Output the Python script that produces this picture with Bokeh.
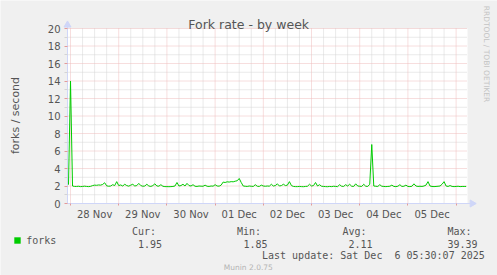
import math
from bokeh.plotting import figure
from bokeh.models import Range1d, FixedTicker, Label, Legend, LegendItem, BoxAnnotation
from bokeh.embed import file_html
from bokeh.resources import INLINE

# ---- data (hours since 28 Nov 00:00, hourly averages of forks/second) ----
hours = list(range(-1, 198))
forks_pre = [2.15]
forks_nov28 = [14.0, 2.0, 1.95, 1.95, 1.97, 1.93, 1.95, 1.98, 1.95, 1.93, 1.96, 2.05,
               2.1, 2.08, 2.12, 2.1, 2.18, 2.37, 2.02, 1.97, 2.0, 2.15, 2.05, 2.5]
forks_nov29 = [2.05, 2.12, 2.0, 2.2, 2.05, 1.98, 2.1, 2.2, 2.0, 2.05, 2.3, 2.05,
               1.97, 2.0, 2.2, 2.0, 1.95, 2.05, 2.25, 2.0, 1.98, 2.15, 1.97, 1.93]
forks_nov30 = [1.93, 1.92, 1.93, 1.95, 2.0, 2.4, 2.0, 2.05, 2.2, 2.0, 2.3, 2.05,
               2.0, 2.15, 1.97, 1.95, 2.0, 1.98, 1.97, 2.1, 1.97, 1.95, 2.0, 1.98]
forks_dec01 = [2.15, 2.0, 1.98, 2.1, 2.45, 2.4, 2.48, 2.45, 2.5, 2.48, 2.55, 2.6,
               2.86, 2.4, 2.0, 1.97, 1.95, 2.0, 1.97, 1.95, 2.15, 1.97, 1.95, 2.1]
forks_dec02 = [2.0, 1.97, 2.0, 1.98, 2.2, 2.0, 2.05, 2.25, 2.0, 2.05, 2.2, 2.05,
               2.1, 2.5, 2.05, 1.95, 1.93, 1.93, 1.95, 1.93, 1.92, 1.95, 1.97, 2.2]
forks_dec03 = [2.0, 2.05, 2.4, 2.0, 2.15, 1.97, 1.95, 1.93, 1.92, 1.95, 1.93, 1.97,
               1.95, 1.93, 2.15, 1.97, 1.95, 2.15, 2.0, 2.2, 1.97, 1.95, 2.25, 2.0]
forks_dec04 = [1.97, 1.95, 2.2, 1.97, 1.95, 2.2, 6.74, 2.0, 1.97, 1.95, 2.15, 1.97,
               1.95, 1.93, 1.95, 1.97, 2.1, 1.95, 1.93, 1.97, 2.15, 1.95, 1.97, 2.1]
forks_dec05 = [1.95, 1.93, 1.97, 2.25, 2.0, 1.95, 1.97, 1.95, 2.0, 2.1, 2.5, 2.0,
               1.95, 1.93, 1.95, 1.97, 2.0, 2.2, 2.5, 2.0, 1.95, 2.05, 1.95, 1.93]
forks_dec06 = [1.95, 1.97, 1.93, 1.95, 1.95, 1.95]
forks = (forks_pre + forks_nov28 + forks_nov29 + forks_nov30 + forks_dec01 +
         forks_dec02 + forks_dec03 + forks_dec04 + forks_dec05 + forks_dec06)

day_labels = ["28 Nov", "29 Nov", "30 Nov", "01 Dec", "02 Dec", "03 Dec", "04 Dec", "05 Dec"]
label_hours = [12 + 24 * i for i in range(len(day_labels))]
midnight_hours = [24 * i for i in range(9)]
six_hours = [h for h in range(6, 198, 6) if h % 24 != 0]
y_major = list(range(0, 21, 2))
y_minor = list(range(1, 20, 2))

title_text = "Fork rate - by week"
ylabel_text = "forks / second"
series_name = "forks"
stat_names = ["Cur:", "Min:", "Avg:", "Max:"]
stat_values = ["1.95", "1.85", "2.11", "39.39"]
update_text = "Last update: Sat Dec \u00a06 05:30:07 2025"
munin_text = "Munin 2.0.75"
rrd_text = "RRDTOOL / TOBI OETIKER"

# ---- layout constants (pixels) ----
W, H = 497, 275
PLOT_L, PLOT_R, PLOT_T, PLOT_B = 67, 467, 28, 203   # graph area in canvas pixels
T_START, T_END = -1.5, 197.67                         # time window (hours)
Y_MIN, Y_MAX = 0, 20
pxh = (PLOT_R - PLOT_L) / (T_END - T_START)
pxv = (PLOT_B - PLOT_T) / (Y_MAX - Y_MIN)
x_range = Range1d(T_START - PLOT_L / pxh, T_END + (W - PLOT_R) / pxh)
y_range = Range1d(Y_MIN - (H - PLOT_B) / pxv, Y_MAX + PLOT_T / pxv)

p = figure(width=W, height=H, x_range=x_range, y_range=y_range,
           output_backend="svg", toolbar_location=None, title=None, min_border=0,
           background_fill_color="#F0F0F0", border_fill_color="#F0F0F0",
           outline_line_color=None)
p.grid.visible = False

GREY = "#D4D4D4"
RED_GRID = "#EFBDBD"
RED_TICK = "#E39A9A"
AXIS = "#CFD6F8"
FONTC = "#555555"
GREEN = "#00CC00"

# white graph canvas
p.add_layout(BoxAnnotation(left=T_START, right=T_END, bottom=Y_MIN, top=Y_MAX,
                           fill_color="white", fill_alpha=1, line_color=None, level="underlay"))

# grid lines from tick arrays
p.segment(x0=T_START, x1=T_END, y0=y_minor, y1=y_minor, line_color=GREY, line_dash="1 1")
p.segment(x0=six_hours, x1=six_hours, y0=Y_MIN, y1=Y_MAX, line_color=GREY, line_dash="1 1")
p.segment(x0=T_START, x1=T_END, y0=y_major, y1=y_major, line_color=RED_GRID, line_dash="1 1")
p.segment(x0=midnight_hours, x1=midnight_hours, y0=Y_MIN, y1=Y_MAX, line_color=RED_GRID,
          line_dash="1 1")

# axes fixed at the graph edges
xa = p.xaxis[0]
xa.fixed_location = Y_MIN
xa.bounds = (T_START, 200)
xa.ticker = FixedTicker(ticks=label_hours, minor_ticks=midnight_hours)
xa.major_label_overrides = {h: l for h, l in zip(label_hours, day_labels)}
xa.major_tick_line_color = None
xa.major_tick_out = 0
xa.major_tick_in = 0
xa.minor_tick_line_color = RED_TICK
xa.minor_tick_out = 2
xa.minor_tick_in = 0
xa.axis_line_color = AXIS
xa.major_label_text_font = "DejaVu Sans"
xa.major_label_text_font_size = "10px"
xa.major_label_text_color = FONTC
xa.major_label_standoff = 3

ya = p.yaxis[0]
ya.fixed_location = T_START
ya.bounds = (Y_MIN, 20.4)
ya.ticker = FixedTicker(ticks=y_major, minor_ticks=y_minor)
ya.major_tick_line_color = RED_TICK
ya.major_tick_out = 3
ya.major_tick_in = 0
ya.minor_tick_line_color = GREY
ya.minor_tick_out = 3
ya.minor_tick_in = 0
ya.axis_line_color = AXIS
ya.major_label_text_font = "DejaVu Sans"
ya.major_label_text_font_size = "10px"
ya.major_label_text_color = FONTC
ya.major_label_standoff = 4

# axis arrows at the axis ends
p.scatter(x=[T_START], y=[20.4], marker="triangle", size=7, fill_color=AXIS, line_color=AXIS)
p.scatter(x=[200], y=[Y_MIN], marker="triangle", angle=-math.pi / 2, size=7,
          fill_color=AXIS, line_color=AXIS)

line = p.line(hours, forks, line_color=GREEN, line_width=1)

# hidden area renderer of the same series, used only for the square legend swatch
swatch = p.vbar(x=hours, top=forks, width=1, fill_color=GREEN, line_color=None, visible=False)
legend = Legend(items=[LegendItem(label=series_name, renderers=[swatch])], location=(13.2, 29),
                padding=0, margin=0, spacing=0, glyph_width=8, glyph_height=8,
                label_standoff=5, label_height=12, label_text_font="DejaVu Sans Mono",
                label_text_font_size="10px", label_text_color=FONTC,
                border_line_color=None, background_fill_alpha=0, inactive_fill_alpha=0)
p.add_layout(legend)


def lab(X, Y, text, size="10px", font="DejaVu Sans Mono", color=FONTC, align="left",
        baseline="alphabetic", angle=0.0):
    p.add_layout(Label(x=X, y=H - Y, x_units="screen", y_units="screen", text=text,
                       text_font=font, text_font_size=size, text_color=color,
                       text_align=align, text_baseline=baseline, angle=angle))


lab(248.2, 23.5, title_text, size="12.5px", font="DejaVu Sans", align="center")
lab(15, 115, ylabel_text, size="11px", font="DejaVu Sans", align="center", angle=math.pi / 2)
lab(485.5, 53.5, rrd_text, size="7.5px", font="DejaVu Sans", color="#C4C4C4", align="center",
    angle=-math.pi / 2)
name_x = [131.5, 236.5, 342, 447]
val_x = [137.5, 243, 348, 447]
for nx, vx, n, v in zip(name_x, val_x, stat_names, stat_values):
    lab(nx, 231, n)
    lab(vx, 243, v)
lab(261.5, 255, update_text)
lab(247.8, 266.5, munin_text, size="7.5px", font="DejaVu Sans", color="#B4B4B4", align="center")

open("out.html", "w").write(file_html(p, INLINE))
